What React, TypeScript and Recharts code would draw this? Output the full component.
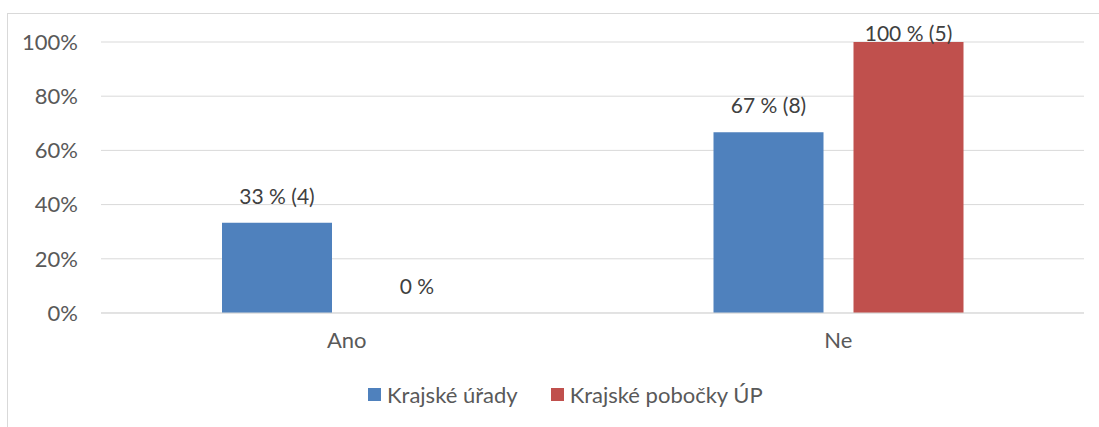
import { BarChart, Bar, XAxis, YAxis, CartesianGrid, Legend, LabelList, Rectangle } from "recharts";

const categories = ["Ano", "Ne"];
const uradyValues = [33.3, 66.7];
const pobockyValues = [0, 100];
const uradyLabels = ["33 % (4)", "67 % (8)"];
const pobockyLabels = ["0 %", "100 % (5)"];
const yTicks = [0, 20, 40, 60, 80, 100];

const data = categories.map((name, i) => ({
  name,
  urady: uradyValues[i],
  pobocky: pobockyValues[i],
  uradyLabel: uradyLabels[i],
  pobockyLabel: pobockyLabels[i],
}));

const FONT = "Lato, 'Open Sans', sans-serif";
const BLUE = "#4f81bd";
const RED = "#c0504d";

const renderLabel = (props: any) => {
  const { x, y, width, height, value } = props;
  // zero bars get a 1px min size, keep their label on the 0 line
  const top = height <= 1 ? y + height : y;
  const baseline = Math.max(top - 19, 41);
  return (
    <text
      x={x + width / 2}
      y={baseline}
      textAnchor="middle"
      fill="#404040"
      fontSize={21}
      fontFamily={FONT}
    >
      {value}
    </text>
  );
};

// hide the min-size stub for zero values
const barShape = (props: any) => {
  if (!props.value || (Array.isArray(props.value) && props.value[1] - props.value[0] === 0)) return <g />;
  return <Rectangle {...props} />;
};

const legendItems = [
  { label: "Krajské úřady", color: BLUE },
  { label: "Krajské pobočky ÚP", color: RED },
];

const renderLegend = () => (
  <div style={{ display: "flex", alignItems: "center", fontFamily: FONT, fontSize: 22, color: "#595959" }}>
    {legendItems.map((it, i) => (
      <div key={it.label} style={{ display: "flex", alignItems: "center", marginRight: i === 0 ? 33 : 0 }}>
        <span style={{ display: "inline-block", width: 13, height: 13, background: it.color, marginRight: 6 }} />
        <span>{it.label}</span>
      </div>
    ))}
  </div>
);

export default function App() {
  return (
    <div style={{ position: "absolute", left: 0, top: 0, width: 1099, height: 427, background: "#fff", overflow: "hidden" }}>
      <div
        style={{
          position: "absolute",
          left: 7,
          top: 13,
          width: 1200,
          height: 500,
          borderLeft: "1px solid #d9d9d9",
          borderTop: "1px solid #d9d9d9",
        }}
      />
      <BarChart
        width={1099}
        height={427}
        data={data}
        margin={{ top: 42, right: 15, bottom: 27, left: 0 }}
        barSize={110}
        barGap={30}
        style={{ position: "absolute", left: 0, top: 0 }}
      >
        <CartesianGrid vertical={false} stroke="#d9d9d9" strokeWidth={1} />
        <XAxis
          dataKey="name"
          height={63}
          tickLine={false}
          axisLine={{ stroke: "#d9d9d9" }}
          tickSize={0}
          tickMargin={19}
          tick={{ fill: "#595959", fontSize: 22, fontFamily: FONT }}
        />
        <YAxis
          width={101}
          domain={[0, 100]}
          ticks={yTicks}
          tickFormatter={(v: number) => `${v}%`}
          tickLine={false}
          axisLine={false}
          tickSize={0}
          tickMargin={23}
          tick={{ fill: "#595959", fontSize: 22, fontFamily: FONT }}
        />
        <Legend
          verticalAlign="bottom"
          height={24}
          content={renderLegend}
          wrapperStyle={{ left: 368, width: 480, bottom: 22 }}
        />
        <Bar dataKey="urady" name="Krajské úřady" fill={BLUE} isAnimationActive={false}>
          <LabelList dataKey="uradyLabel" content={renderLabel} />
        </Bar>
        <Bar
          dataKey="pobocky"
          name="Krajské pobočky ÚP"
          fill={RED}
          minPointSize={1}
          shape={barShape}
          isAnimationActive={false}
        >
          <LabelList dataKey="pobockyLabel" content={renderLabel} />
        </Bar>
      </BarChart>
    </div>
  );
}
